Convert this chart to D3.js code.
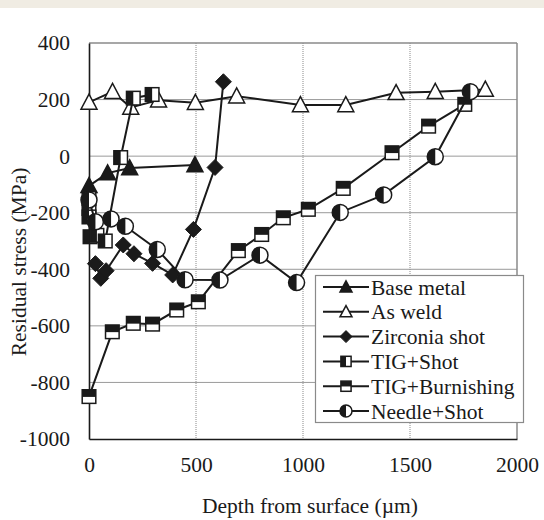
<!DOCTYPE html>
<html>
<head>
<meta charset="utf-8">
<script src="https://cdn.jsdelivr.net/npm/d3@7"></script>
<style>
  html, body { margin: 0; padding: 0; background: #ffffff; }
  svg { display: block; }
  text { font-family: "Liberation Serif", "Times New Roman", serif; fill: #1a1a1a; }
</style>
</head>
<body>
<svg id="chart" width="544" height="520"></svg>
<script>
// Residual stress profiles: [depth (µm), stress (MPa)]
const baseMetal = [[0, -105], [87, -60], [190, -42], [495, -31]];
const asWeld = [[0, 190], [110, 228], [195, 172], [325, 198], [497, 189], [690, 212],
                [988, 181], [1200, 181], [1435, 224], [1618, 228], [1852, 236]];
const zirconiaShot = [[30, -380], [55, -432], [80, -405], [160, -314], [210, -345],
                      [297, -379], [391, -420], [488, -259], [589, -40], [628, 263]];
const tigShot = [[0, -150], [0, -185], [0, -215], [5, -285], [37, -280], [76, -300],
                 [148, -5], [207, 205], [295, 218]];
const tigBurnishing = [[0, -850], [109, -621], [207, -591], [297, -594], [410, -544],
                       [511, -515], [698, -334], [807, -277], [908, -218], [1025, -188],
                       [1188, -114], [1416, 12], [1587, 106], [1756, 183]];
const needleShot = [[0, -155], [30, -232], [103, -222], [170, -248], [319, -330],
                    [449, -437], [612, -438], [799, -350], [970, -447], [1174, -199],
                    [1377, -137], [1618, -2], [1782, 228]];

const seriesNames = ["Base metal", "As weld", "Zirconia shot", "TIG+Shot", "TIG+Burnishing", "Needle+Shot"];
const seriesData = [baseMetal, asWeld, zirconiaShot, tigShot, tigBurnishing, needleShot];
const seriesMarkers = ["triFilled", "triOpen", "diamond", "squareLeft", "squareTop", "circleLeft"];

const xTicks = [0, 500, 1000, 1500, 2000];
const yTicks = [-1000, -800, -600, -400, -200, 0, 200, 400];
const xTitle = "Depth from surface (\u00b5m)";
const yTitle = "Residual stress (MPa)";

const ink = "#1a1a1a";
const svg = d3.select("#chart");

// Thin tinted band along the top edge
svg.append("rect").attr("x", 0).attr("y", 0).attr("width", 544).attr("height", 8).attr("fill", "#f0ece3");

const plot = { left: 89, right: 517, top: 43, bottom: 439 };
const x = d3.scaleLinear().domain([0, 2000]).range([plot.left, plot.right]);
const y = d3.scaleLinear().domain([-1000, 400]).range([plot.bottom, plot.top]);

// Grid
const grid = svg.append("g");
grid.selectAll("line.h").data(yTicks.filter(v => v > -1000 && v < 400)).join("line")
  .attr("x1", plot.left).attr("x2", plot.right)
  .attr("y1", d => y(d)).attr("y2", d => y(d))
  .attr("stroke", "#9a9a9a").attr("stroke-width", 1);
grid.selectAll("line.v").data(xTicks.filter(v => v > 0 && v < 2000)).join("line")
  .attr("y1", plot.top).attr("y2", plot.bottom)
  .attr("x1", d => x(d)).attr("x2", d => x(d))
  .attr("stroke", "#8a8a8a").attr("stroke-width", 1).attr("stroke-dasharray", "1,1");

// Frame: grey top/right, dark axes left/bottom
svg.append("line").attr("x1", plot.left).attr("x2", plot.right).attr("y1", plot.top).attr("y2", plot.top)
  .attr("stroke", "#8a8a8a").attr("stroke-width", 1.5);
svg.append("line").attr("x1", plot.right).attr("x2", plot.right).attr("y1", plot.top).attr("y2", plot.bottom)
  .attr("stroke", "#8a8a8a").attr("stroke-width", 1.5);

const xAxis = svg.append("g").attr("transform", `translate(0,${plot.bottom})`)
  .call(d3.axisBottom(x).tickValues(xTicks).tickSize(0).tickPadding(18).tickFormat(d => String(d)));
const yAxis = svg.append("g").attr("transform", `translate(${plot.left},0)`)
  .call(d3.axisLeft(y).tickValues(yTicks).tickSize(0).tickPadding(19).tickFormat(d => String(d)));
[xAxis, yAxis].forEach(g => {
  g.select(".domain").attr("stroke", ink).attr("stroke-width", 1.6);
  g.selectAll("text").style("font-family", '"Liberation Serif", "Times New Roman", serif')
    .style("font-size", "21.5px").attr("fill", ink);
});

svg.append("text").attr("x", 310).attr("y", 513).attr("text-anchor", "middle")
  .style("font-size", "21.5px").text(xTitle);
svg.append("text").attr("transform", "translate(26,262) rotate(-90)").attr("text-anchor", "middle")
  .style("font-size", "21.5px").text(yTitle);

// Marker drawing
function drawMarker(g, type, s) {
  const sw = 1.5;
  if (type === "triFilled" || type === "triOpen") {
    const w = 8 * s, h = 15 * s;
    g.append("path").attr("d", `M0,${-h * 0.55}L${w},${h * 0.45}L${-w},${h * 0.45}Z`)
      .attr("fill", type === "triFilled" ? ink : "#fff").attr("stroke", ink).attr("stroke-width", sw);
  } else if (type === "diamond") {
    const r = 8 * s;
    g.append("path").attr("d", `M0,${-r}L${r},0L0,${r}L${-r},0Z`).attr("fill", ink).attr("stroke", ink).attr("stroke-width", 1);
  } else if (type === "squareLeft" || type === "squareTop") {
    const a = 6.8 * s;
    g.append("rect").attr("x", -a).attr("y", -a).attr("width", 2 * a).attr("height", 2 * a).attr("fill", "#fff");
    if (type === "squareLeft") {
      g.append("rect").attr("x", -a).attr("y", -a).attr("width", a).attr("height", 2 * a).attr("fill", ink);
    } else {
      g.append("rect").attr("x", -a).attr("y", -a).attr("width", 2 * a).attr("height", a * 1.05).attr("fill", ink);
    }
    g.append("rect").attr("x", -a).attr("y", -a).attr("width", 2 * a).attr("height", 2 * a)
      .attr("fill", "none").attr("stroke", ink).attr("stroke-width", sw);
  } else if (type === "circleLeft") {
    const r = 8 * s;
    g.append("circle").attr("r", r).attr("fill", "#fff");
    g.append("path").attr("d", `M0,${-r}A${r},${r} 0 0 0 0,${r}Z`).attr("fill", ink);
    g.append("circle").attr("r", r).attr("fill", "none").attr("stroke", ink).attr("stroke-width", sw);
  }
}

const line = d3.line().x(d => x(d[0])).y(d => y(d[1]));

seriesData.forEach((data, i) => {
  const g = svg.append("g");
  g.append("path").datum(data).attr("d", line)
    .attr("fill", "none").attr("stroke", ink).attr("stroke-width", 2);
  g.selectAll("g.m").data(data).join("g")
    .attr("transform", d => `translate(${x(d[0])},${y(d[1])})`)
    .each(function () { drawMarker(d3.select(this), seriesMarkers[i], 1); });
});

// Legend
const legend = svg.append("g");
legend.append("rect").attr("x", 315.5).attr("y", 275.5).attr("width", 208).attr("height", 147)
  .attr("fill", "#fff").attr("stroke", "#8a8a8a").attr("stroke-width", 1.2);
seriesNames.forEach((name, i) => {
  const ry = 287 + i * 24.8;
  const row = legend.append("g");
  row.append("line").attr("x1", 323).attr("x2", 369).attr("y1", ry).attr("y2", ry)
    .attr("stroke", ink).attr("stroke-width", 2);
  const m = row.append("g").attr("transform", `translate(346,${ry})`);
  drawMarker(m, seriesMarkers[i], 0.75);
  row.append("text").attr("x", 371).attr("y", ry).attr("dy", "0.35em")
    .style("font-size", "21.5px").text(name);
});
</script>
</body>
</html>
